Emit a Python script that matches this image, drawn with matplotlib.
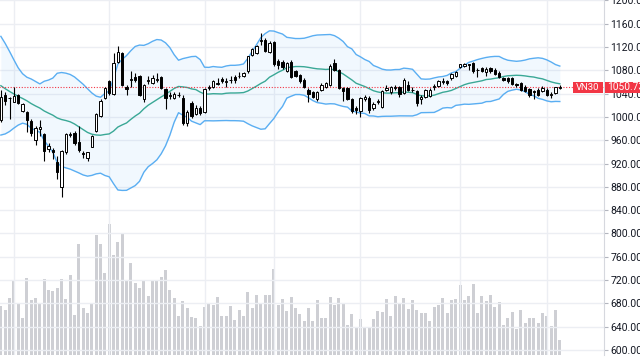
import numpy as np
import matplotlib
matplotlib.use("Agg")
import matplotlib.pyplot as plt
from matplotlib.patches import Rectangle
import matplotlib.transforms as mtransforms

plt.rcParams['font.family'] = ['Roboto', 'DejaVu Sans']

# ---------------- data ----------------
symbol = "VN30"

open_ = [995, 1038, 1032, 1026, 1038, 1011, 1008, 993, 960, 980,
         971, 945, 944, 923, 879, 939, 969, 973, 957, 938,
         930, 949, 976, 1002, 1033, 1061, 1040, 1095, 1109, 1052,
         1063, 1069, 1070, 1030, 1062, 1058, 1064, 1068, 1048, 1036,
         1033, 1038, 1033, 990, 1024, 1005, 1016, 1008, 1050, 1052,
         1057, 1065, 1060, 1063, 1069, 1070, 1071, 1078, 1106, 1110,
         1130, 1132, 1112, 1128, 1096, 1094, 1079, 1095, 1078, 1072,
         1064, 1047, 1043, 1030, 1047, 1052, 1055, 1093, 1081, 1050,
         1050, 1030, 1016, 1011, 1030, 1033, 1015, 1025, 1017, 1047,
         1042, 1050, 1051, 1041, 1055, 1047, 1044, 1030, 1035, 1036,
         1051, 1053, 1060, 1061, 1066, 1071, 1086, 1088, 1090, 1092,
         1080, 1084, 1077, 1084, 1081, 1076, 1066, 1067, 1066, 1056,
         1058, 1052, 1048, 1044, 1047, 1044, 1047, 1038, 1041, 1050]
high = [1047, 1043, 1034, 1051, 1040, 1024, 1010, 997, 984, 994,
        973, 955, 947, 933, 943, 973, 974, 976, 984, 942,
        940, 969, 1006, 1030, 1052, 1064, 1110, 1121, 1112, 1054,
        1078, 1075, 1072, 1056, 1071, 1072, 1075, 1070, 1050, 1042,
        1042, 1042, 1037, 1012, 1027, 1020, 1019, 1050, 1055, 1064,
        1066, 1068, 1066, 1070, 1072, 1077, 1077, 1105, 1118, 1124,
        1144, 1136, 1130, 1131, 1099, 1097, 1095, 1097, 1080, 1074,
        1066, 1049, 1045, 1044, 1058, 1060, 1090, 1099, 1083, 1051,
        1052, 1032, 1018, 1034, 1037, 1036, 1025, 1030, 1046, 1054,
        1053, 1054, 1053, 1066, 1062, 1052, 1046, 1037, 1048, 1049,
        1056, 1063, 1066, 1064, 1075, 1079, 1091, 1092, 1091, 1094,
        1084, 1086, 1086, 1086, 1084, 1078, 1069, 1068, 1068, 1058,
        1060, 1054, 1050, 1046, 1049, 1053, 1049, 1042, 1052, 1054]
low = [992, 1021, 996, 1025, 1022, 1009, 974, 968, 951, 968,
       925, 940, 928, 893, 863, 937, 966, 952, 940, 930,
       925, 948, 974, 1000, 1030, 1038, 1038, 1093, 1053, 1038,
       1052, 1060, 1036, 1025, 1057, 1056, 1060, 1048, 1013, 1030,
       1031, 1034, 986, 985, 998, 1003, 1003, 1006, 1047, 1050,
       1054, 1058, 1052, 1058, 1058, 1066, 1069, 1076, 1104, 1108,
       1124, 1112, 1110, 1087, 1083, 1083, 1077, 1066, 1068, 1059,
       1049, 1025, 1033, 1028, 1045, 1050, 1053, 1079, 1048, 1027,
       1029, 1006, 1005, 1000, 1028, 1006, 1012, 1022, 1015, 1044,
       1040, 1046, 1035, 1039, 1045, 1042, 1018, 1022, 1033, 1034,
       1047, 1051, 1056, 1054, 1064, 1069, 1084, 1085, 1081, 1076,
       1069, 1077, 1071, 1076, 1072, 1066, 1061, 1058, 1054, 1052,
       1045, 1043, 1035, 1030, 1036, 1042, 1036, 1033, 1040, 1048]
close = [1035, 1028, 1033, 1036, 1024, 1022, 995, 973, 981, 982,
         941, 950, 940, 905, 941, 971, 971, 955, 944, 937,
         939, 968, 1005, 1028, 1050, 1041, 1092, 1112, 1055, 1048,
         1065, 1064, 1038, 1055, 1064, 1067, 1065, 1050, 1033, 1037,
         1040, 1037, 990, 1008, 1002, 1016, 1006, 1048, 1052, 1061,
         1059, 1061, 1062, 1064, 1064, 1071, 1075, 1104, 1117, 1121,
         1132, 1114, 1127, 1090, 1089, 1086, 1093, 1069, 1071, 1061,
         1052, 1039, 1035, 1042, 1055, 1058, 1087, 1081, 1050, 1044,
         1031, 1011, 1012, 1032, 1035, 1012, 1022, 1027, 1044, 1049,
         1051, 1051, 1039, 1064, 1047, 1046, 1024, 1035, 1046, 1047,
         1053, 1061, 1061, 1059, 1073, 1077, 1090, 1091, 1089, 1078,
         1081, 1079, 1083, 1078, 1074, 1068, 1064, 1061, 1056, 1054,
         1047, 1045, 1038, 1043, 1038, 1050, 1038, 1039, 1051, 1050.73]
volume = [98, 91, 115, 150, 103, 75, 155, 111, 115, 103,
          153, 130, 128, 134, 152, 113, 161, 80, 223, 94,
          84, 104, 240, 222, 165, 262, 200, 226, 243, 148,
          185, 144, 134, 148, 118, 150, 151, 156, 171, 130,
          115, 79, 108, 94, 77, 75, 58, 97, 105, 101,
          117, 78, 78, 98, 70, 91, 78, 127, 95, 121,
          102, 121, 121, 173, 100, 112, 88, 117, 94, 83,
          69, 95, 69, 111, 75, 75, 117, 100, 114, 105,
          60, 82, 57, 72, 56, 55, 72, 88, 87, 112,
          79, 118, 103, 115, 92, 111, 90, 85, 85, 69,
          96, 101, 115, 84, 111, 112, 140, 111, 118, 142,
          85, 118, 109, 120, 97, 106, 60, 75, 87, 52,
          90, 64, 75, 75, 65, 85, 78, 58, 90, 30]
# closes of the 19 sessions before the visible window (feed the 20-day bands)
prior_close = [1130, 1128, 1122, 1110, 1090, 1075, 1070, 1062, 1055, 1040,
               1025, 1010, 1000, 995, 1005, 1015, 1030, 1040, 1035]
month_start_idx = [3, 25, 47, 63, 83, 106, 126]
price_ticks = list(range(600, 1201, 40))

# ---------------- indicators ----------------
bb_len, bb_mult = 20, 2.0
allc = np.array(prior_close + close, dtype=float)
n = len(close)
basis = np.array([allc[i:i + bb_len].mean() for i in range(n)])
dev = np.array([allc[i:i + bb_len].std() for i in range(n)])
upper = basis + bb_mult * dev
lower = basis - bb_mult * dev

# ---------------- figure ----------------
W, H = 640, 360
fig = plt.figure(figsize=(W / 100, H / 100), dpi=100)
rect = [0, 5 / H, 604 / W, 355 / H]
axv = fig.add_axes(rect)
ax = fig.add_axes(rect, sharex=axv)
ax.patch.set_visible(False)

x = np.arange(n)
o = np.array(open_, float); c = np.array(close, float)
h = np.array(high, float); l = np.array(low, float)

# volume
axv.bar(x, volume, width=0.72, color='#aeb0b8', alpha=0.6, linewidth=0)
axv.set_ylim(0, 710)
axv.axis('off')

# grid
ax.set_axisbelow(True)
ax.set_yticks(price_ticks)
ax.set_yticklabels([f"{v:.2f}" for v in price_ticks])
ax.set_xticks(month_start_idx)
ax.grid(True, color='#eceef3', linewidth=1.0)

# bollinger bands
ax.fill_between(x, lower, upper, color='#2196f3', alpha=0.06, linewidth=0, zorder=1)
ax.plot(x, upper, color='#5aaef2', lw=1.0, zorder=2)
ax.plot(x, lower, color='#5aaef2', lw=1.0, zorder=2)
ax.plot(x, basis, color='#3aa896', lw=1.0, zorder=2)

# last price line
ax.plot([x[0] - 5, n + 30], [c[-1], c[-1]], color='#f23645', lw=0.8,
        ls=(0, (1, 1.5)), zorder=2.5)

# candles
ax.vlines(x, l, h, color='black', lw=0.8, zorder=3)
up = c >= o
body_b = np.minimum(o, c)
body_h = np.maximum(np.abs(c - o), 0.6)
ax.bar(x[up], body_h[up], bottom=body_b[up], width=0.56, facecolor='white',
       edgecolor='black', linewidth=0.7, zorder=4)
ax.bar(x[~up], body_h[~up], bottom=body_b[~up], width=0.56, facecolor='black',
       edgecolor='black', linewidth=0.7, zorder=4)

ax.set_xlim(-0.2, 139.2)
ax.set_ylim(591.4, 1200.7)

# axes styling
for s in ['left', 'top', 'bottom']:
    ax.spines[s].set_visible(False)
ax.spines['right'].set_color('#d6d8de')
ax.spines['right'].set_linewidth(0.8)
ax.yaxis.tick_right()
ax.tick_params(axis='y', right=True, left=False, labelright=True, labelleft=False,
               length=3, width=0.8, color='#b2b5be', labelsize=7.5,
               labelcolor='#131722', pad=1.5)
ax.tick_params(axis='x', bottom=False, labelbottom=False, length=0)

# symbol and last-price labels
red = '#f23645'
blend = mtransforms.blended_transform_factory(ax.transAxes, ax.transData)
half = 10.0
ax.add_patch(Rectangle((573 / 604, c[-1] - half), 30 / 604, 2 * half,
                       transform=blend, facecolor=red, edgecolor='none',
                       zorder=6, clip_on=False))
ax.text(588 / 604, c[-1], symbol, transform=blend, color='white',
        fontsize=6.8, ha='center', va='center', zorder=7)
ax.add_patch(Rectangle((605 / 604, c[-1] - half), 40 / 604, 2 * half,
                       transform=blend, facecolor=red, edgecolor='none',
                       zorder=6, clip_on=False))
ax.text(607.5 / 604, c[-1], f"{c[-1]:.2f}", transform=blend, color='white',
        fontsize=7.3, ha='left', va='center', zorder=7, clip_on=False)

fig.savefig("out.png", dpi=100)
